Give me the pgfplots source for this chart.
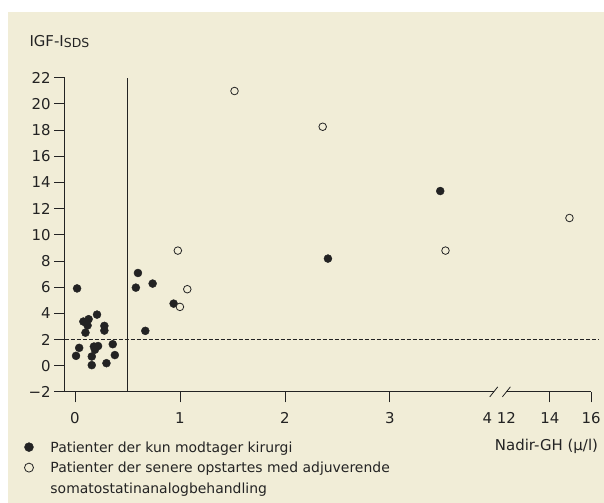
\documentclass[border=0pt]{standalone}
\usepackage{pgfplots}
\pgfplotsset{compat=1.18}
\usepackage{fontspec}
\setmainfont{DejaVu Sans}
\definecolor{bg}{RGB}{241,237,215}
\definecolor{ink}{RGB}{35,35,35}
\begin{document}
\begin{tikzpicture}[x=1bp,y=1bp]
\fill[white] (0,0) rectangle (604,503);
\fill[bg] (8,0) rectangle (604,491);
\begin{axis}[
  at={(64.7bp,111bp)}, anchor=south west,
  scale only axis, width=535.3bp, height=314.3bp,
  x coord trafo/.code={\pgfmathparse{(#1>8)*(4.13+0.197*(#1-12))+(#1<=8)*(#1)}},
  xmin=-0.0981, xmax=16.416, ymin=-2, ymax=22,
  axis lines*=left,
  x axis line style={draw=none},
  y axis line style={-, draw=ink, line width=0.8bp},
  tick align=outside, major tick length=10.5bp,
  tick style={draw=ink, line width=0.8bp},
  xtick={0,1,2,3,14,16}, xticklabels={0,1,2,3,14,16},
  extra x ticks={3.93,11.9}, extra x tick labels={4,12},
  extra x tick style={tick style={draw=none}},
  ytick={-2,0,2,4,6,8,10,12,14,16,18,20,22},
  yticklabels={−2,0,2,4,6,8,10,12,14,16,18,20,22},
  tick label style={font=\fontsize{15}{18}\selectfont, text=ink},
  xticklabel style={yshift=-7bp},
  clip=false,
  every axis y label/.style={at={(axis description cs:-0.0723,1.0996)}, anchor=base west},
  ylabel={\fontsize{15}{18}\selectfont\color{ink}IGF-I\raisebox{-1.6bp}{\fontsize{12.5}{14}\selectfont SDS}},
  every axis x label/.style={at={(axis description cs:1.0032,-0.1877)}, anchor=base east},
  xlabel={\fontsize{15}{18}\selectfont\color{ink}Nadir-GH (µ/l)},
  legend style={at={(axis description cs:-0.0751,-0.1600)}, anchor=north west,
    draw=none, fill=none, inner sep=0pt, outer sep=0pt,
    row sep=7.5bp, column sep=17bp,
    font=\fontsize{14}{16}\selectfont, text=ink,
    nodes={inner sep=0pt, text height=10bp, text depth=3bp},
    cells={anchor=base west}},
  legend image code/.code={\draw[#1, mark size=4.5bp] plot coordinates {(4.5bp,5bp)};},
]
\draw[ink, line width=0.8bp] (axis cs:-0.0981,-2) -- (axis cs:3.99,-2);
\draw[ink, line width=0.8bp] (axis cs:11.9,-2) -- (axis cs:16,-2);
\draw[ink, line width=0.8bp] (axis cs:3.99,-2) ++(-4bp,-5bp) -- ++(8bp,10bp);
\draw[ink, line width=0.8bp] (axis cs:11.9,-2) ++(-4bp,-5bp) -- ++(8bp,10bp);
\draw[ink, line width=0.9bp] (axis cs:0.5,-2) -- (axis cs:0.5,22);
\draw[ink, line width=0.8bp, dash pattern=on 4bp off 2bp] (axis cs:-0.0981,2) -- (axis cs:16.37,2);
\addplot[only marks, mark=*, mark size=4bp, draw=ink, fill=ink] coordinates {
(0.02,5.9) (0.21,3.9) (0.08,3.37) (0.13,3.55) (0.12,3.07) (0.10,2.52)
(0.28,3.04) (0.28,2.68) (0.04,1.36) (0.01,0.75) (0.18,1.46) (0.22,1.5)
(0.19,1.22) (0.16,0.7) (0.16,0.04) (0.36,1.64) (0.38,0.81) (0.30,0.19)
(0.60,7.08) (0.58,5.96) (0.74,6.27) (0.94,4.74) (0.67,2.66)
(2.41,8.18) (3.48,13.34)
};
\addlegendentry{Patienter der kun modtager kirurgi}
\addplot[only marks, mark=*, mark size=3.8bp, draw=ink, fill=bg, line width=0.8bp] coordinates {
(0.98,8.79) (1.07,5.84) (1.00,4.49) (1.52,20.98) (2.36,18.25) (3.53,8.79) (14.95,11.28)
};
\addlegendentry{Patienter der senere opstartes med adjuverende}
\addlegendimage{legend image code/.code={}}
\addlegendentry{somatostatinanalogbehandling}
\end{axis}
\end{tikzpicture}
\end{document}
